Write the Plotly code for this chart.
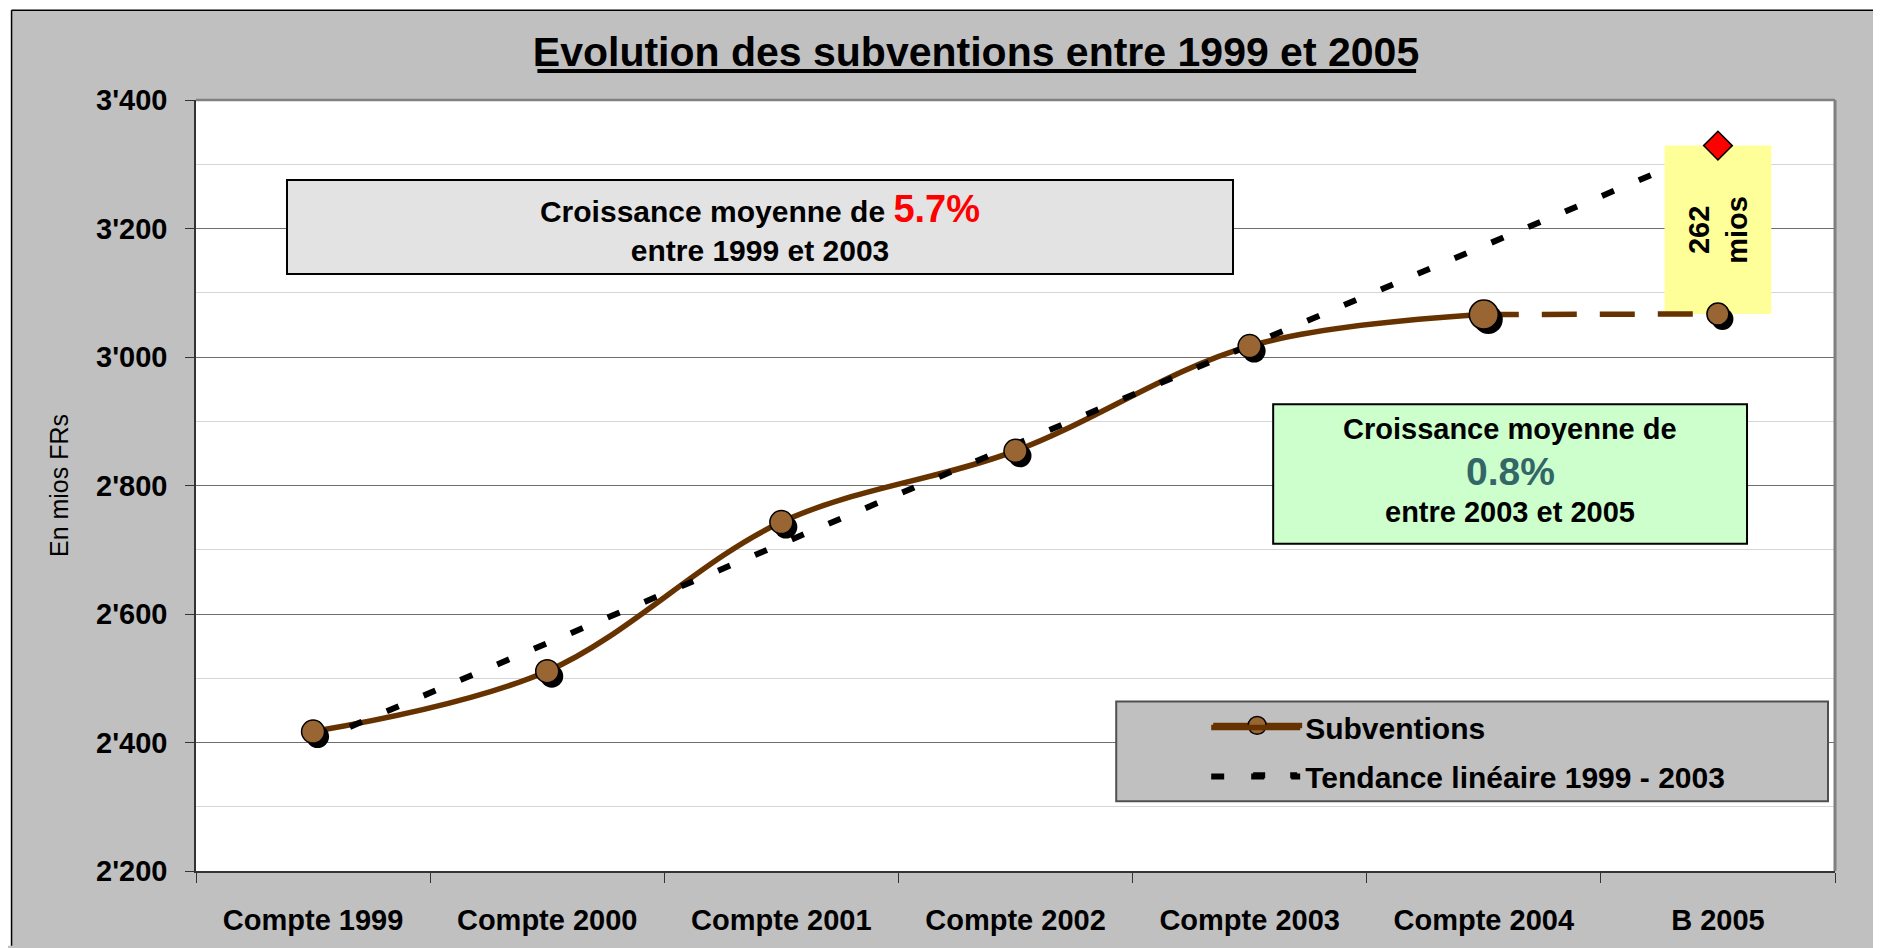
import plotly.graph_objects as go

# ---------------- data ----------------
categories = ["Compte 1999", "Compte 2000", "Compte 2001", "Compte 2002",
              "Compte 2003", "Compte 2004", "B 2005"]
subventions = [2417, 2511, 2743, 2854, 3017, 3066, 3067]
trend_1999_2003 = [2400, 2555, 2709, 2864, 3018, 3173, 3327]
trend_target_2005 = 3329
ytick_vals = [2200, 2400, 2600, 2800, 3000, 3200, 3400]
ytick_labels = ["2'200", "2'400", "2'600", "2'800", "3'000", "3'200", "3'400"]

# ---------------- geometry / style ----------------
OFF = 8                      # page body margin
W, H = 1881 - OFF, 948 - OFF
PLOT_L, PLOT_R, PLOT_T, PLOT_B = 195.5, 1835, 100, 873   # in window pixels
ML = PLOT_L - OFF
MT = PLOT_T - OFF
MR = W - (PLOT_R - OFF)
MB = H - (PLOT_B - OFF)
PW, PH = W - ML - MR, H - MT - MB
FONT = "Liberation Sans, Arial, sans-serif"
BROWN_LINE = "#663300"
BROWN_FILL = "#996633"
GRAY_BG = "#C0C0C0"
marker_sizes = [23, 23, 23, 23, 23, 29, 22]
YR = [2200, 3400]
XR = [-0.5, len(categories) - 0.5]


def px_x(px):
    return (px - OFF - ML) / PW


def px_y(py):
    return 1 - (py - OFF - MT) / PH


xs = list(range(len(categories)))
x_per_px = (XR[1] - XR[0]) / PW
y_per_px = (YR[1] - YR[0]) / PH
shadow_dx, shadow_dy = 4.5, 5.0  # pixels

fig = go.Figure()

# solid smoothed line 1999-2004 (legend entry)
fig.add_trace(go.Scatter(
    x=xs[:6], y=subventions[:6], mode="lines", name="Subventions",
    legendgroup="a",
    line=dict(color=BROWN_LINE, width=5.5, shape="spline"),
    hoverinfo="skip"))

# linear trend
fig.add_trace(go.Scatter(
    x=xs, y=trend_1999_2003, mode="lines", name="Tendance linéaire 1999 - 2003",
    legendgroup="b",
    line=dict(color="black", width=6, dash="13px,27px"), hoverinfo="skip"))

# yellow label box (covers trend end)
hw = 0.228
b0, b1 = subventions[6], trend_target_2005
fig.add_trace(go.Scatter(
    x=[xs[6] - hw, xs[6] + hw, xs[6] + hw, xs[6] - hw, xs[6] - hw],
    y=[b0, b0, b1, b1, b0], mode="lines", fill="toself", fillcolor="#FFFF99",
    line=dict(width=0, color="#FFFF99"), showlegend=False, hoverinfo="skip"))

# dashed 2004-2005
fig.add_trace(go.Scatter(
    x=xs[5:7], y=subventions[5:7], mode="lines", showlegend=False,
    line=dict(color=BROWN_LINE, width=5.5, dash="35px,23px"), hoverinfo="skip"))

# shadows (shifted axes)
fig.add_trace(go.Scatter(
    x=xs, y=subventions, mode="markers", showlegend=False, xaxis="x2", yaxis="y2",
    marker=dict(size=marker_sizes, color="black", opacity=1, line=dict(width=0)),
    hoverinfo="skip"))

# markers on top
fig.add_trace(go.Scatter(
    x=xs, y=subventions, mode="markers", showlegend=False, xaxis="x3", yaxis="y3",
    marker=dict(size=marker_sizes, color=BROWN_FILL, opacity=1,
                line=dict(color="black", width=1.5)),
    hoverinfo="skip"))

# red diamond
fig.add_trace(go.Scatter(
    x=[xs[6]], y=[trend_target_2005], mode="markers", showlegend=False,
    xaxis="x3", yaxis="y3",
    marker=dict(size=22, symbol="diamond", color="#FF0000", opacity=1,
                line=dict(color="black", width=1.5)),
    hoverinfo="skip"))

bold = dict(family=FONT, color="black", weight="bold")

fig.update_layout(
    width=W, height=H, autosize=False,
    margin=dict(l=ML, r=MR, t=MT, b=MB, pad=0),
    paper_bgcolor=GRAY_BG, plot_bgcolor="white",
    font=dict(family=FONT, color="black"),
    title=dict(text="Evolution des subventions entre 1999 et 2005",
               x=(976 - OFF) / W, xref="container", xanchor="center",
               y=1 - (52 - OFF) / H, yref="container", yanchor="middle",
               font=dict(size=41, family=FONT, color="black", weight="bold")),
    xaxis=dict(type="linear", range=XR, tickmode="array", tickvals=xs,
               ticktext=categories, ticks="", ticklabelstandoff=22,
               tickfont=dict(size=29, **bold), showgrid=False, zeroline=False,
               showline=True, linecolor="#333333", linewidth=1.5,
               minor=dict(tickmode="linear", tick0=-0.5, dtick=1, ticks="outside",
                          ticklen=10, tickcolor="#333333", tickwidth=1.2,
                          showgrid=False)),
    yaxis=dict(range=YR, tickmode="array", tickvals=ytick_vals, ticktext=ytick_labels,
               ticks="outside", ticklen=9, tickcolor="#333333", tickwidth=1.2,
               ticklabelstandoff=12,
               tickfont=dict(size=29, **bold), showgrid=True, gridcolor="#6E6E6E",
               gridwidth=1, zeroline=False, showline=True, linecolor="#333333",
               linewidth=1.5,
               minor=dict(tickmode="linear", tick0=2200, dtick=100, ticks="",
                          showgrid=True, gridcolor="#D6D6D6", gridwidth=1.2),
               title=dict(text="En mios FRs", standoff=20,
                          font=dict(size=25, family=FONT, color="black"))),
    xaxis2=dict(overlaying="x", range=[XR[0] - shadow_dx * x_per_px,
                                       XR[1] - shadow_dx * x_per_px],
                visible=False, type="linear"),
    yaxis2=dict(overlaying="y", range=[YR[0] + shadow_dy * y_per_px,
                                       YR[1] + shadow_dy * y_per_px],
                visible=False),
    xaxis3=dict(overlaying="x", range=XR, visible=False, type="linear"),
    yaxis3=dict(overlaying="y", range=YR, visible=False),
    legend=dict(x=px_x(1206), y=px_y(703), xanchor="left", yanchor="top",
                bgcolor="rgba(0,0,0,0)", borderwidth=0, itemwidth=89,
                font=dict(size=30, **bold), traceorder="grouped",
                tracegroupgap=7),
    showlegend=True,
)

shapes = [
    # white strips outside the gray frame
    dict(type="rect", xref="paper", yref="paper", x0=px_x(0), x1=px_x(1881),
         y0=px_y(0), y1=px_y(10), fillcolor="white", line_width=0, layer="below"),
    dict(type="rect", xref="paper", yref="paper", x0=px_x(0), x1=px_x(11),
         y0=px_y(0), y1=px_y(948), fillcolor="white", line_width=0, layer="below"),
    # frame border lines
    dict(type="line", xref="paper", yref="paper", x0=px_x(11), x1=px_x(1881),
         y0=px_y(10), y1=px_y(10), line=dict(color="black", width=1.5)),
    dict(type="line", xref="paper", yref="paper", x0=px_x(11), x1=px_x(11),
         y0=px_y(10), y1=px_y(948), line=dict(color="black", width=1.5)),
    # title underline
    dict(type="line", xref="paper", yref="paper", x0=px_x(537), x1=px_x(1416),
         y0=px_y(71), y1=px_y(71), line=dict(color="black", width=4)),
    # plot area top/right border
    dict(type="line", xref="paper", yref="paper", x0=0, x1=1, y0=1, y1=1,
         line=dict(color="#808080", width=2.5)),
    dict(type="line", xref="paper", yref="paper", x0=1, x1=1, y0=0, y1=1,
         line=dict(color="#808080", width=3)),
    # legend box
    dict(type="rect", xref="paper", yref="paper", x0=px_x(1116), x1=px_x(1828),
         y0=px_y(803), y1=px_y(703), fillcolor=GRAY_BG,
         line=dict(color="#505050", width=2), layer="above"),
    # legend sample extensions (Excel-style long samples)
    dict(type="line", xref="paper", yref="paper", x0=px_x(1213), x1=px_x(1302),
         y0=px_y(727), y1=px_y(727), line=dict(color=BROWN_LINE, width=5.5),
         layer="above"),
    dict(type="circle", xref="paper", yref="paper", x0=px_x(1248), x1=px_x(1266),
         y0=px_y(736), y1=px_y(718), fillcolor=BROWN_FILL,
         line=dict(color="black", width=1.5), layer="above"),
    dict(type="line", xref="paper", yref="paper", x0=px_x(1253), x1=px_x(1265),
         y0=px_y(777), y1=px_y(777), line=dict(color="black", width=6),
         layer="above"),
    dict(type="line", xref="paper", yref="paper", x0=px_x(1290), x1=px_x(1297),
         y0=px_y(777), y1=px_y(777), line=dict(color="black", width=6),
         layer="above"),
    # green box
    dict(type="rect", xref="paper", yref="paper", x0=px_x(1273), x1=px_x(1747),
         y0=px_y(545), y1=px_y(405), fillcolor="#CCFFCC",
         line=dict(color="black", width=2), layer="above"),
]
fig.update_layout(shapes=shapes)

annotations = [
    dict(xref="paper", yref="paper", x=px_x(760), y=px_y(227),
         xanchor="center", yanchor="middle", showarrow=False,
         text="Croissance moyenne de <span style='color:#FF0000;font-size:38px'>5.7%</span>"
              "<br>entre 1999 et 2003",
         width=944, height=92, bgcolor="#E3E3E3", bordercolor="black",
         borderwidth=2, borderpad=0, font=dict(size=30, **bold), align="center"),
    dict(xref="paper", yref="paper", x=px_x(1510), y=px_y(430),
         xanchor="center", yanchor="middle", showarrow=False,
         text="Croissance moyenne de", font=dict(size=29, **bold)),
    dict(xref="paper", yref="paper", x=px_x(1510), y=px_y(472),
         xanchor="center", yanchor="middle", showarrow=False,
         text="0.8%", font=dict(size=39, family=FONT, color="#336666", weight="bold")),
    dict(xref="paper", yref="paper", x=px_x(1510), y=px_y(513),
         xanchor="center", yanchor="middle", showarrow=False,
         text="entre 2003 et 2005", font=dict(size=29, **bold)),
    dict(xref="x", yref="y", x=xs[6], y=(b0 + b1) / 2, showarrow=False,
         text="262<br>mios", textangle=-90, font=dict(size=29, **bold),
         xanchor="center", yanchor="middle"),
]
fig.update_layout(annotations=annotations)

fig.write_html("out.html")
